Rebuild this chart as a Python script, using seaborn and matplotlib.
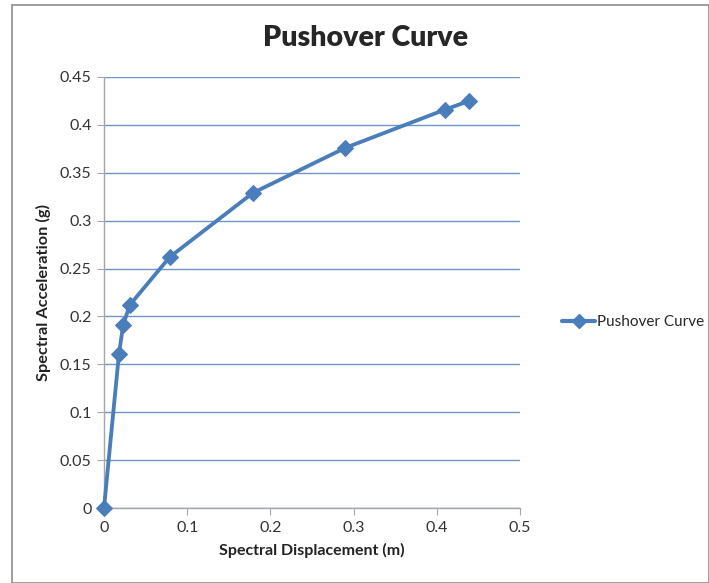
import matplotlib
matplotlib.use("Agg")
import matplotlib.pyplot as plt
import seaborn as sns
import pandas as pd
from matplotlib.patches import Rectangle
from matplotlib.lines import Line2D

sd = [0.0, 0.018, 0.023, 0.031, 0.079, 0.179, 0.290, 0.410, 0.439]
sa = [0.0, 0.161, 0.191, 0.212, 0.262, 0.329, 0.376, 0.416, 0.425]
series_name = "Pushover Curve"
xticks = [0, 0.1, 0.2, 0.3, 0.4, 0.5]
yticks = [0, 0.05, 0.1, 0.15, 0.2, 0.25, 0.3, 0.35, 0.4, 0.45]
ytick_labels = ["0", "0.05", "0.1", "0.15", "0.2", "0.25", "0.3", "0.35", "0.4", "0.45"]
xtick_labels = ["0", "0.1", "0.2", "0.3", "0.4", "0.5"]

df = pd.DataFrame({"sd": sd, "sa": sa, "series": series_name})

sns.set_style("white")
plt.rcParams["font.family"] = ["Lato", "DejaVu Sans"]

fig = plt.figure(figsize=(7.09, 5.83), dpi=100)
ax = fig.add_axes([104/709, 1-508/583, 416/709, 431/583])

# outer chart border
fig.patches.append(Rectangle((12/709, 0), 1-12/709, 1-5/583, transform=fig.transFigure,
                             fill=False, edgecolor="#8c8c8c", linewidth=1.2))

line_color = "#4a7ebb"
sns.lineplot(data=df, x="sd", y="sa", hue="series", palette=[line_color], marker="D",
             markersize=8, linewidth=2.75, markeredgecolor=line_color, ax=ax, sort=False,
             legend=False, clip_on=False, zorder=3)

ax.set_xlim(0, 0.5)
ax.set_ylim(0, 0.45)
ax.set_xticks(xticks)
ax.set_xticklabels(xtick_labels, fontsize=11.5, color="#333333")
ax.set_yticks(yticks)
ax.set_yticklabels(ytick_labels, fontsize=11.5, color="#333333")
ax.yaxis.grid(True, color="#6f95c8", linewidth=1)
ax.xaxis.grid(False)
ax.set_axisbelow(True)
for s in ["top", "right"]:
    ax.spines[s].set_visible(False)
for s in ["left", "bottom"]:
    ax.spines[s].set_color("#a6a6a6")
    ax.spines[s].set_linewidth(1)
ax.tick_params(axis="both", which="both", direction="out", length=5, color="#a6a6a6",
               left=True, bottom=True, pad=4)

ax.set_xlabel("Spectral Displacement (m)", fontsize=11.5, fontweight="bold", color="#222222", labelpad=6)
ax.set_ylabel("Spectral Acceleration (g)", fontsize=11.8, fontweight="bold", color="#222222", labelpad=6)
fig.text(366/709, 1-38/583, "Pushover Curve", fontsize=20.5, fontweight="heavy", ha="center", va="center")

h = Line2D([], [], color=line_color, marker="D", markersize=7, linewidth=3)
fig.legend([h], [series_name], loc="center left", bbox_to_anchor=(548/709, 1-322/583),
           frameon=False, fontsize=11, handlelength=2.2, handletextpad=0.1)

fig.savefig("out.png", dpi=100)
